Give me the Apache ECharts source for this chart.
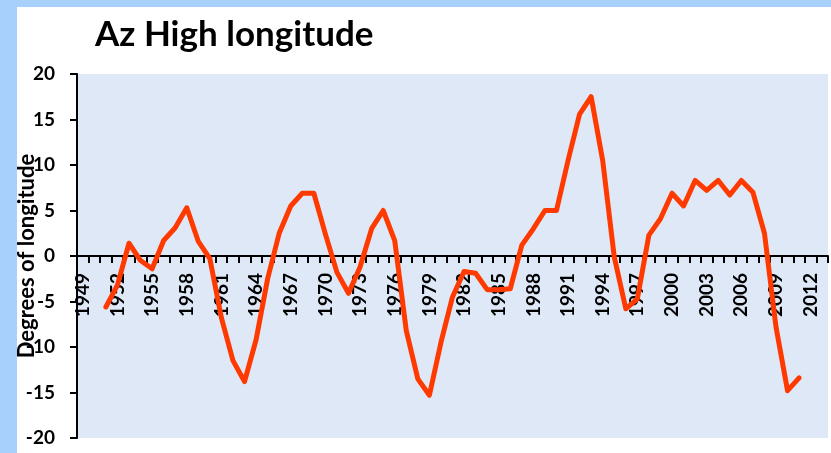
<!DOCTYPE html>
<html>
<head>
<meta charset="utf-8">
<script src="https://cdn.jsdelivr.net/npm/echarts@6/dist/echarts.min.js"></script>
<style>
  html, body { margin: 0; padding: 0; background: #a7d1fc; }
  #chart { position: absolute; left: 0; top: 0; width: 831px; height: 453px; }
</style>
</head>
<body>
<div id="chart"></div>
<script>
// Yearly categories 1949–2013; labels appear every third year
const years = [];
for (let y = 1949; y <= 2013; y++) years.push(String(y));

// Azores High longitude anomaly (degrees); null where no value
const azHighLongitude = [
  null, null, -5.6, -3.2, 1.4, -0.5, -1.4, 1.7, 3.1, 5.3,
  1.6, -0.3, -6.8, -11.5, -13.8, -9.2, -2.5, 2.5, 5.5, 6.9,
  6.9, 2.4, -1.8, -4.1, -1.2, 3.0, 5.0, 1.7, -8.2, -13.5,
  -15.3, -9.5, -4.5, -1.7, -1.9, -3.7, -3.7, -3.6, 1.2, 3.0,
  5.0, 5.0, 10.5, 15.6, 17.5, 10.5, -0.1, -5.8, -4.7, 2.3,
  4.1, 6.9, 5.5, 8.3, 7.2, 8.3, 6.7, 8.3, 7.0, 2.5,
  -7.8, -14.8, -13.4, null, null
];

const yTicks = { min: -20, max: 20, step: 5 };

// Plot box (pixels)
const plot = { left: 77, right: 3, top: 74, bottom: 15 };
// Year labels hang under the zero line, which sits halfway down the symmetric range
const zeroOffset = -(453 - plot.top - plot.bottom) / 2;

const labelFont = { fontFamily: 'Lato', fontWeight: 'bold', color: '#000000' };

const chart = echarts.init(document.getElementById('chart'), null, { renderer: 'canvas' });

chart.setOption({
  backgroundColor: 'transparent',
  animation: false,
  graphic: [{
    type: 'rect',
    z: -10,
    shape: { x: 17, y: 7, width: 814, height: 446 },
    style: { fill: '#ffffff' },
    silent: true
  }],
  title: {
    text: 'Az High longitude',
    left: 90,
    top: 12,
    textStyle: Object.assign({ fontSize: 35 }, labelFont)
  },
  grid: {
    left: plot.left,
    right: plot.right,
    top: plot.top,
    bottom: plot.bottom,
    containLabel: false,
    outerBoundsMode: 'none',
    show: true,
    backgroundColor: '#dee8f6',
    borderWidth: 0
  },
  xAxis: [{
    type: 'category',
    data: years,
    boundaryGap: true,
    axisLine: { onZero: true, lineStyle: { color: '#000000', width: 2 } },
    axisTick: { show: true, interval: 0, length: 7, lineStyle: { color: '#000000', width: 2 } },
    axisLabel: { show: false },
    splitLine: { show: false }
  }, {
    type: 'category',
    data: years,
    boundaryGap: true,
    position: 'bottom',
    offset: zeroOffset,
    axisLine: { show: false, onZero: false },
    axisTick: { show: false },
    axisLabel: Object.assign({
      interval: 2,
      rotate: 90,
      margin: 17,
      fontSize: 19
    }, labelFont),
    splitLine: { show: false }
  }],
  yAxis: {
    type: 'value',
    min: yTicks.min,
    max: yTicks.max,
    interval: yTicks.step,
    name: 'Degrees of longitude',
    nameLocation: 'middle',
    nameGap: 39,
    nameRotate: 90,
    nameMoveOverlap: false,
    nameTextStyle: Object.assign({ fontSize: 22 }, labelFont),
    axisLine: { show: true, lineStyle: { color: '#000000', width: 2 } },
    axisTick: { show: true, length: 7, lineStyle: { color: '#000000', width: 2 } },
    axisLabel: Object.assign({ margin: 22, fontSize: 19 }, labelFont),
    splitLine: { show: false }
  },
  series: [{
    type: 'line',
    data: azHighLongitude,
    connectNulls: false,
    showSymbol: false,
    symbol: 'none',
    z: 5,
    lineStyle: { color: '#ff3a00', width: 5, join: 'round', cap: 'round' }
  }]
});
</script>
</body>
</html>
